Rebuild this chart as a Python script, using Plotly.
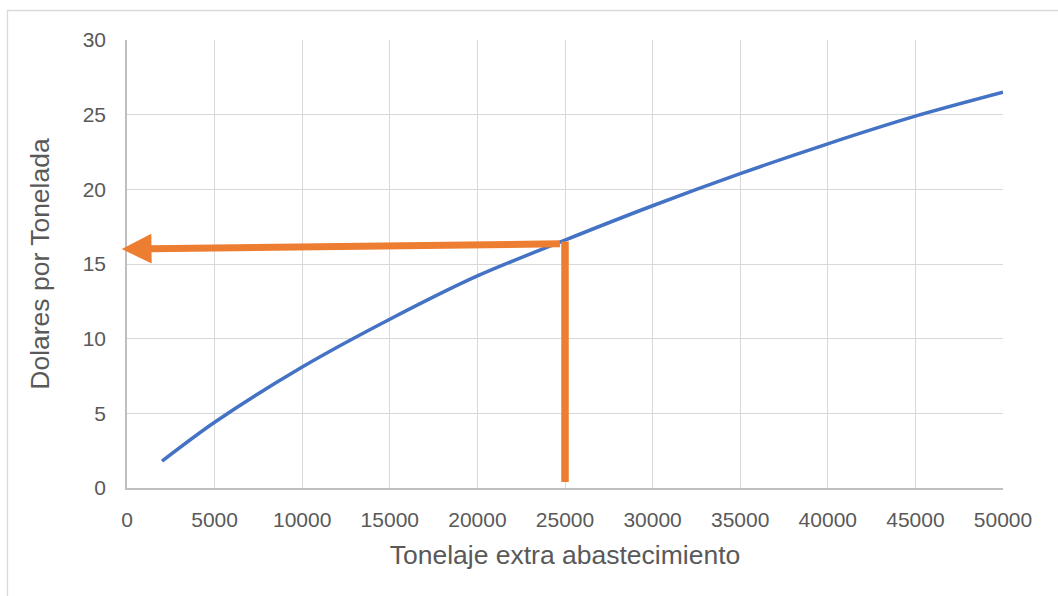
import plotly.graph_objects as go

# Curve: dollars per ton vs extra supply tonnage
tonelaje = [2000, 5000, 10000, 15000, 20000, 25000, 30000, 35000, 40000, 45000, 50000]
dolares = [1.8, 4.4, 8.1, 11.3, 14.2, 16.6, 18.9, 21.05, 23.05, 24.9, 26.5]

# Reading guide: vertical drop at 25000 t and horizontal arrow to the y axis
guia_x = 25000
guia_y_base = 0.4
guia_y_top = 16.5
flecha_cola = (24800, 16.35)
flecha_punta = (-300, 16.0)

x_ticks = list(range(0, 50001, 5000))
y_ticks = list(range(0, 31, 5))

W, H = 1058, 596
ML, MR, MT, MB = 127, 55, 40, 108
PW, PH = W - ML - MR, H - MT - MB

GRID = "#d9d9d9"
TXT = "#595959"
FONT = "Liberation Sans, Arial, sans-serif"

fig = go.Figure()
fig.add_trace(go.Scatter(
    x=tonelaje, y=dolares, mode="lines",
    line=dict(color="#4472C4", width=3.5, shape="spline", smoothing=0.8),
    hoverinfo="skip", showlegend=False,
))

# vertical orange guide
fig.add_shape(type="line", xref="x", yref="y",
              x0=guia_x, x1=guia_x, y0=guia_y_base, y1=guia_y_top,
              line=dict(color="#ED7D31", width=7.5), layer="above")

# horizontal orange arrow
fig.add_annotation(
    x=flecha_punta[0], y=flecha_punta[1], xref="x", yref="y",
    ax=flecha_cola[0], ay=flecha_cola[1], axref="x", ayref="y",
    showarrow=True, arrowhead=2, arrowsize=0.85, arrowwidth=7,
    arrowcolor="#ED7D31", text="",
)

# outer chart border (left and top edges visible)
def px2paper_x(px):
    return (px - ML) / PW

def px2paper_y(py):
    return (H - MB - py) / PH

fig.add_shape(type="rect", xref="paper", yref="paper",
              x0=px2paper_x(7.5), x1=px2paper_x(W + 20),
              y0=px2paper_y(H + 20), y1=px2paper_y(10.5),
              line=dict(color="#d9d9d9", width=1.3), fillcolor="rgba(0,0,0,0)",
              layer="below")

fig.update_layout(
    width=W, height=H,
    margin=dict(l=ML, r=MR, t=MT, b=MB),
    paper_bgcolor="white", plot_bgcolor="white",
    font=dict(family=FONT, color=TXT, size=21),
    xaxis=dict(
        range=[0, 50000], tickvals=x_ticks, ticktext=[str(v) for v in x_ticks],
        showgrid=True, gridcolor=GRID, gridwidth=1.3,
        showline=True, linecolor="#bfbfbf", linewidth=1.5,
        zeroline=False, ticks="", ticklabelstandoff=12,
        tickfont=dict(size=21, color=TXT),
        title=dict(text="Tonelaje extra abastecimiento", font=dict(size=26.5, color=TXT), standoff=15),
    ),
    yaxis=dict(
        range=[0, 30], tickvals=y_ticks,
        showgrid=True, gridcolor=GRID, gridwidth=1.3,
        showline=True, linecolor="#bfbfbf", linewidth=1.5,
        zeroline=False, ticks="", ticklabelstandoff=15,
        tickfont=dict(size=21, color=TXT),
        title=dict(text="Dolares por Tonelada", font=dict(size=26.5, color=TXT), standoff=25),
    ),
)

fig.write_html("out.html")
